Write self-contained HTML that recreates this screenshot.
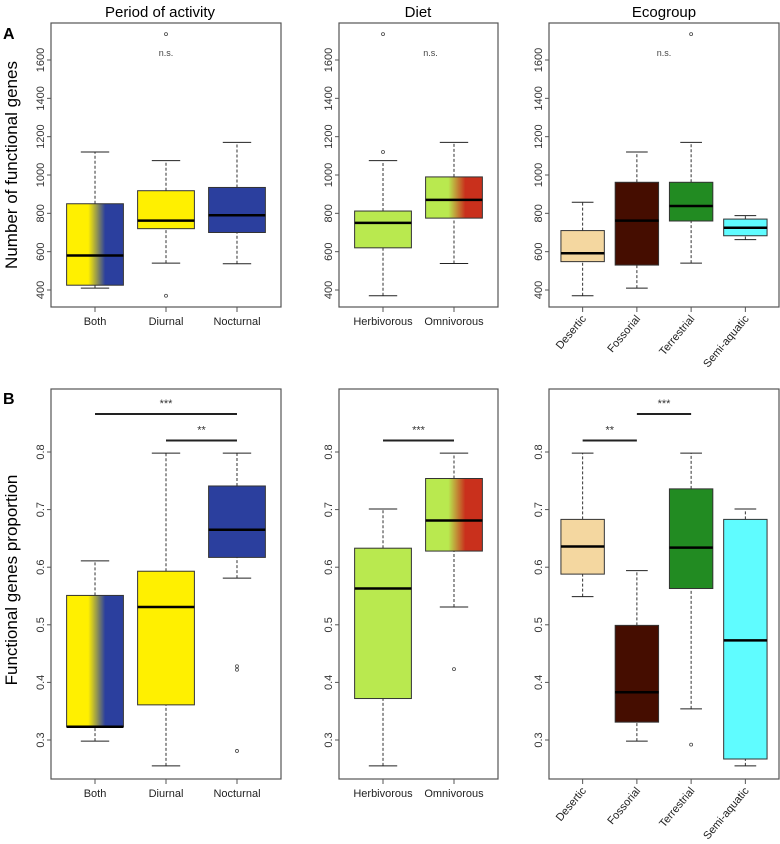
<!DOCTYPE html>
<html><head><meta charset="utf-8"><style>
body{margin:0;background:#fff;}
svg{display:block;font-family:"Liberation Sans","DejaVu Sans",sans-serif;}
</style></head><body>
<svg id="fig" width="780" height="844" viewBox="0 0 780 844" xmlns="http://www.w3.org/2000/svg">
<defs>
<linearGradient id="gYB" x1="0" x2="1" y1="0" y2="0"><stop offset="0.38" stop-color="#fff000"/><stop offset="0.68" stop-color="#2b3f9e"/></linearGradient>
<linearGradient id="gGR" x1="0" x2="1" y1="0" y2="0"><stop offset="0.4" stop-color="#b9e94f"/><stop offset="0.7" stop-color="#c9301c"/></linearGradient>
</defs>
<text x="160" y="17" font-size="15" text-anchor="middle">Period of activity</text>
<text x="418" y="17" font-size="15" text-anchor="middle">Diet</text>
<text x="664" y="17" font-size="15" text-anchor="middle">Ecogroup</text>
<text x="3" y="39" font-size="16" font-weight="bold">A</text>
<text x="3" y="404" font-size="16" font-weight="bold">B</text>
<text transform="translate(17,165) rotate(-90)" font-size="17" text-anchor="middle">Number of functional genes</text>
<text transform="translate(17,580) rotate(-90)" font-size="17" text-anchor="middle">Functional genes proportion</text>
</svg>
<script>
// ---- data ----
const catPeriod = ["Both","Diurnal","Nocturnal"];
const catDiet = ["Herbivorous","Omnivorous"];
const catEco = ["Desertic","Fossorial","Terrestrial","Semi-aquatic"];
// [low whisker, q1, median, q3, high whisker]
const genesPeriod = [[410,425,580,850,1120],[540,720,762,918,1075],[537,700,790,935,1170]];
const genesPeriodOut = [[],[370,1735],[]];
const genesDiet = [[370,620,750,812,1075],[538,775,870,990,1170]];
const genesDietOut = [[1120,1735],[]];
const genesEco = [[370,548,592,710,858],[410,530,762,962,1120],[540,760,838,962,1170],[663,683,725,770,788]];
const genesEcoOut = [[],[],[1735],[]];
const propPeriod = [[0.298,0.323,0.323,0.551,0.611],[0.255,0.361,0.531,0.593,0.798],[0.581,0.617,0.665,0.741,0.798]];
const propPeriodOut = [[],[],[0.428,0.422,0.281]];
const propDiet = [[0.255,0.372,0.563,0.633,0.701],[0.531,0.628,0.681,0.754,0.798]];
const propDietOut = [[],[0.423]];
const propEco = [[0.549,0.588,0.636,0.683,0.798],[0.298,0.331,0.383,0.499,0.594],[0.354,0.563,0.634,0.736,0.798],[0.255,0.267,0.473,0.683,0.701]];
const propEcoOut = [[],[],[0.292],[]];
const genesTicks = [400,600,800,1000,1200,1400,1600];
const propTicks = [0.3,0.4,0.5,0.6,0.7,0.8];
const sigPeriod = [[0,2,0.866,"***"],[1,2,0.82,"**"]];
const sigDiet = [[0,1,0.82,"***"]];
const sigEco = [[0,1,0.82,"**"],[1,2,0.866,"***"]];
const nsLabel = "n.s.";

const NS="http://www.w3.org/2000/svg";
const svg=document.getElementById('fig');
function mk(t,a,p){const e=document.createElementNS(NS,t);for(const k in a)e.setAttribute(k,a[k]);(p||svg).appendChild(e);return e;}

function panel(o){
  const g=mk('g',{});
  
  
  const n=o.cats.length;
  const unit=(o.x1-o.x0)/(n+0.24);
  const xs=i=>o.x0+unit*(0.62+i);
  const ys=v=>o.yA+(v-o.vA)*(o.yB-o.yA)/(o.vB-o.vA);
  const hw=unit*0.4;
  const fr=mk('rect',{x:o.x0,y:o.y0,width:o.x1-o.x0,height:o.y1-o.y0,fill:'none',stroke:'#555','stroke-width':1.2},g);
  
  
  o.ticks.forEach(t=>{
    const y=ys(t);
    mk('line',{x1:o.x0-4,x2:o.x0,y1:y,y2:y,stroke:'#555'},g);
    const tx=mk('text',{transform:`translate(${o.x0-7},${y}) rotate(-90)`,'font-size':11,fill:'#333','text-anchor':'middle'},g);
    tx.textContent=String(t);
    
    
  });
  o.cats.forEach((c,i)=>{
    const x=xs(i), d=o.data[i];
    mk('line',{x1:x,x2:x,y1:o.y1,y2:o.y1+5,stroke:'#555'},g);
    let lab;
    if(o.rot){lab=mk('text',{transform:`translate(${x+4},${o.y1+12}) rotate(-50)`,'font-size':11,fill:'#222','text-anchor':'end'},g);}
    else{lab=mk('text',{x:x,y:o.y1+18,'font-size':11,fill:'#222','text-anchor':'middle'},g);}
    lab.textContent=c;
    
    
    mk('line',{x1:x,x2:x,y1:ys(d[0]),y2:ys(d[1]),stroke:'#333','stroke-dasharray':'3,2'},g);
    mk('line',{x1:x,x2:x,y1:ys(d[3]),y2:ys(d[4]),stroke:'#333','stroke-dasharray':'3,2'},g);
    mk('line',{x1:x-hw/2,x2:x+hw/2,y1:ys(d[0]),y2:ys(d[0]),stroke:'#222'},g);
    mk('line',{x1:x-hw/2,x2:x+hw/2,y1:ys(d[4]),y2:ys(d[4]),stroke:'#222'},g);
    const b=mk('rect',{x:x-hw,y:ys(d[3]),width:2*hw,height:ys(d[1])-ys(d[3]),fill:o.fills[i],stroke:'#333','stroke-width':1},g);
    
    
    mk('line',{x1:x-hw,x2:x+hw,y1:ys(d[2]),y2:ys(d[2]),stroke:'#000','stroke-width':2.5},g);
    o.out[i].forEach(v=>{mk('circle',{cx:x,cy:ys(v),r:1.5,fill:'none',stroke:'#444','stroke-width':0.8},g);});
  });
  if(o.ns){const t=mk('text',{x:(o.x0+o.x1)/2+(o.nsdx||0),y:ys(1620),'font-size':9,fill:'#444','text-anchor':'middle'},g);t.textContent=nsLabel;
    
    }
  (o.sig||[]).forEach(s=>{
    const y=ys(s[2]);
    const l=mk('line',{x1:xs(s[0]),x2:xs(s[1]),y1:y,y2:y,stroke:'#222','stroke-width':2},g);
    
    
    const t=mk('text',{x:(xs(s[0])+xs(s[1]))/2,y:y-7,'font-size':11,fill:'#333','text-anchor':'middle'},g);
    t.textContent=s[3];
    
    
  });
}
const T={y0:23,y1:307,yA:290,yB:60,vA:400,vB:1600,ticks:genesTicks,ns:true};
const B={y0:389,y1:779,yA:740,yB:452,vA:0.3,vB:0.8,ticks:propTicks};
const fP=["url(#gYB)","#fff000","#2b3f9e"], fD=["#b9e94f","url(#gGR)"], fE=["#f4d7a0","#450d00","#228b22","#5ffcff"];
panel(Object.assign({},T,{name:'panel-a-period',x0:51,x1:281,cats:catPeriod,data:genesPeriod,out:genesPeriodOut,fills:fP,nsdx:0}));
panel(Object.assign({},T,{name:'panel-a-diet',x0:339,x1:498,cats:catDiet,data:genesDiet,out:genesDietOut,fills:fD,nsdx:12}));
panel(Object.assign({},T,{name:'panel-a-ecogroup',x0:549,x1:779,cats:catEco,data:genesEco,out:genesEcoOut,fills:fE,rot:true,nsdx:0}));
panel(Object.assign({},B,{name:'panel-b-period',x0:51,x1:281,cats:catPeriod,data:propPeriod,out:propPeriodOut,fills:fP,sig:sigPeriod}));
panel(Object.assign({},B,{name:'panel-b-diet',x0:339,x1:498,cats:catDiet,data:propDiet,out:propDietOut,fills:fD,sig:sigDiet}));
panel(Object.assign({},B,{name:'panel-b-ecogroup',x0:549,x1:779,cats:catEco,data:propEco,out:propEcoOut,fills:fE,rot:true,sig:sigEco}));
</script>
</body></html>
